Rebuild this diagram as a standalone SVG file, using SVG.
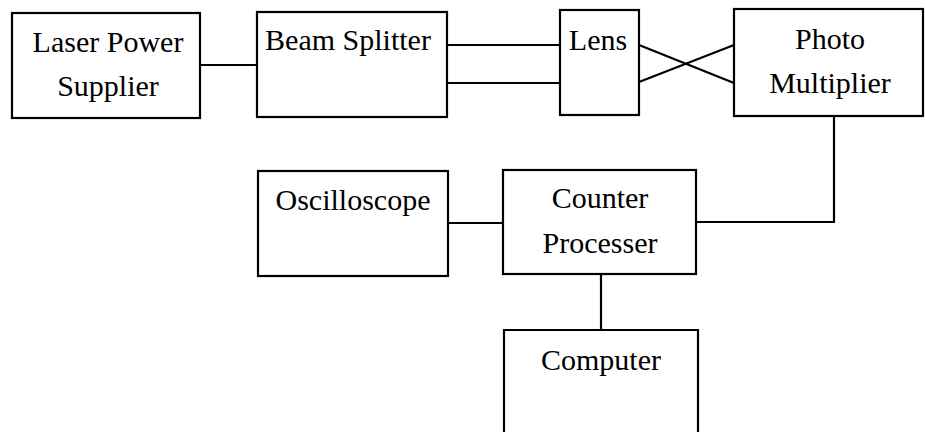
<svg xmlns="http://www.w3.org/2000/svg" width="925" height="432" viewBox="0 0 925 432">
  <style>
    .box { fill: #ffffff; stroke: #000000; stroke-width: 2.2; }
    .wire { fill: none; stroke: #000000; stroke-width: 2.2; }
    .label { font-family: 'Liberation Serif', 'Times New Roman', Times, 'DejaVu Serif', serif; font-size: 30px; fill: #000000; text-anchor: middle; }
  </style>
  <rect width="925" height="432" fill="#ffffff"/>

  <g id="connectors">
    <line class="wire" x1="200" y1="65" x2="257" y2="65"/>
    <line class="wire" x1="447" y1="45" x2="560" y2="45"/>
    <line class="wire" x1="447" y1="83" x2="560" y2="83"/>
    <line class="wire" x1="639" y1="45" x2="734" y2="83"/>
    <line class="wire" x1="639" y1="82" x2="734" y2="45"/>
    <polyline class="wire" points="834,116 834,222 696,222"/>
    <line class="wire" x1="448" y1="223" x2="503" y2="223"/>
    <line class="wire" x1="601" y1="274" x2="601" y2="330"/>
  </g>

  <g id="laser-power-supplier">
    <rect class="box" x="12" y="13" width="188" height="105"/>
    <text class="label" x="108" y="52">Laser Power</text>
    <text class="label" x="108" y="96">Supplier</text>
  </g>

  <g id="beam-splitter">
    <rect class="box" x="257" y="12" width="190" height="105"/>
    <text class="label" x="348" y="50">Beam Splitter</text>
  </g>

  <g id="lens">
    <rect class="box" x="560" y="10" width="79" height="105"/>
    <text class="label" x="598" y="50">Lens</text>
  </g>

  <g id="photo-multiplier">
    <rect class="box" x="734" y="9" width="189" height="107"/>
    <text class="label" x="830" y="49">Photo</text>
    <text class="label" x="830" y="93">Multiplier</text>
  </g>

  <g id="oscilloscope">
    <rect class="box" x="258" y="171" width="190" height="105"/>
    <text class="label" x="353" y="210">Oscilloscope</text>
  </g>

  <g id="counter-processer">
    <rect class="box" x="503" y="170" width="193" height="104"/>
    <text class="label" x="600" y="208">Counter</text>
    <text class="label" x="600" y="253">Processer</text>
  </g>

  <g id="computer">
    <path class="box" d="M504,440 L504,330 L698,330 L698,440"/>
    <text class="label" x="601" y="370">Computer</text>
  </g>
</svg>
